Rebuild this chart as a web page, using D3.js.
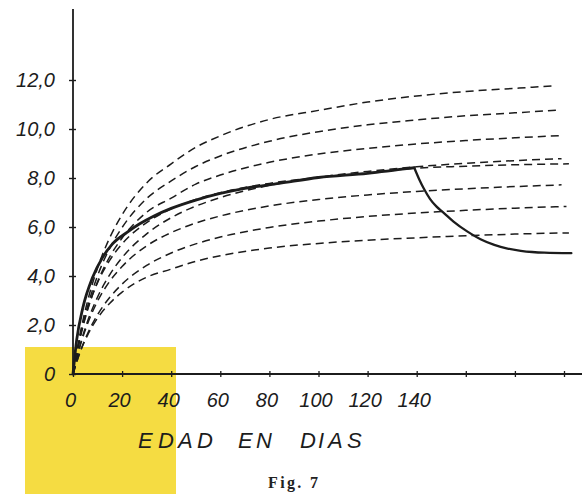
<!DOCTYPE html>
<html>
<head>
<meta charset="utf-8">
<script src="https://cdn.jsdelivr.net/npm/d3@7"></script>
<style>
  html, body { margin: 0; padding: 0; background: #ffffff; }
  svg { display: block; }
</style>
</head>
<body>
<svg id="chart" width="582" height="494"></svg>
<script>
// ---- data ----
const days = [0, 3, 6, 10, 15, 20, 30, 40, 50, 60, 80, 100, 120, 140, 160, 180, 200];
const dashed1 = [0, 1.70, 3.00, 4.33, 5.57, 6.50, 7.80, 8.58, 9.25, 9.72, 10.39, 10.76, 11.10, 11.35, 11.53, 11.66, 11.76];
const dashed2 = [0, 1.58, 2.78, 4.01, 5.14, 5.98, 7.16, 7.88, 8.47, 8.90, 9.50, 9.89, 10.17, 10.37, 10.54, 10.66, 10.77];
const dashed3 = [0, 1.50, 2.63, 3.76, 4.79, 5.55, 6.60, 7.18, 7.75, 8.12, 8.64, 8.98, 9.21, 9.39, 9.53, 9.64, 9.73];
const dashed4 = [0, 1.22, 2.17, 3.14, 4.06, 4.75, 5.72, 6.38, 6.85, 7.20, 7.70, 8.03, 8.27, 8.46, 8.60, 8.71, 8.79];
const dashed5 = [0, 1.56, 2.67, 3.73, 4.65, 5.31, 6.18, 6.74, 7.12, 7.40, 7.78, 8.03, 8.21, 8.40, 8.48, 8.54, 8.58];
const dashed6 = [0, 1.18, 2.07, 2.97, 3.79, 4.39, 5.23, 5.77, 6.16, 6.45, 6.86, 7.12, 7.31, 7.45, 7.56, 7.65, 7.72];
const dashed7 = [0, 0.93, 1.66, 2.42, 3.13, 3.67, 4.43, 4.94, 5.31, 5.59, 5.98, 6.24, 6.43, 6.57, 6.68, 6.77, 6.84];
const dashed8 = [0, 0.92, 1.60, 2.28, 2.89, 3.34, 3.95, 4.28, 4.60, 4.83, 5.14, 5.33, 5.46, 5.56, 5.64, 5.71, 5.76];
const dashedLastDay = [196, 197, 199, 199, 202, 199, 201, 202];

const solidRiseDays = [0, 1.5, 4, 8, 12, 16, 22, 27, 33, 40, 50, 60, 70, 84, 100, 120, 139];
const solidRiseVals = [0, 1.39, 2.7, 3.95, 4.75, 5.3, 5.78, 6.12, 6.45, 6.76, 7.1, 7.37, 7.58, 7.78, 8.02, 8.19, 8.42];
const solidFallDays = [139, 141, 143, 145.4, 148, 151, 155, 160.7, 166, 171.6, 177, 182.4, 187, 192, 203];
const solidFallVals = [8.42, 7.95, 7.55, 7.15, 6.84, 6.58, 6.22, 5.81, 5.50, 5.27, 5.12, 5.03, 4.98, 4.95, 4.93];

const xTicks = [0, 20, 40, 60, 80, 100, 120, 140, 160, 180, 200];
const xTickLabels = ["0", "20", "40", "60", "80", "100", "120", "140", "", "", ""];
const yTicks = [0, 2, 4, 6, 8, 10, 12];
const yTickLabels = ["0", "2,0", "4,0", "6,0", "8,0", "10,0", "12,0"];
const xTitleWords = ["EDAD", "EN", "DIAS"];
const caption = "Fig. 7";

// ---- drawing ----
const svg = d3.select("#chart");
const ink = "#1c1c1c";

const x = d3.scaleLinear().domain([0, 200]).range([73, 564]);
const y = d3.scaleLinear().domain([0, 12]).range([374, 80]);

// yellow patch (scan artefact)
svg.append("rect")
  .attr("x", 25).attr("y", 347).attr("width", 151).attr("height", 147)
  .attr("fill", "#f5dc42");

// axis lines
svg.append("line")
  .attr("x1", x(0)).attr("x2", x(0))
  .attr("y1", y(0)).attr("y2", y(14.9))
  .attr("stroke", ink).attr("stroke-width", 1.8);
svg.append("line")
  .attr("x1", x(0)).attr("x2", 582)
  .attr("y1", y(0)).attr("y2", y(0))
  .attr("stroke", ink).attr("stroke-width", 1.8);

// y axis ticks + labels
const yAxis = d3.axisLeft(y)
  .tickValues(yTicks)
  .tickSize(4)
  .tickSizeOuter(0)
  .tickFormat((d, i) => yTickLabels[i]);
const gy = svg.append("g").attr("transform", `translate(${x(0)},0)`).call(yAxis);
gy.select(".domain").remove();
gy.selectAll(".tick line").attr("x1", 3).attr("x2", -4).attr("stroke", ink).attr("stroke-width", 1.4);
gy.selectAll(".tick text")
  .attr("x", -18).attr("dy", "0.3em")
  .attr("font-family", "'Liberation Sans', Arial, sans-serif")
  .attr("font-style", "italic")
  .attr("font-size", 20)
  .attr("fill", ink);

// x axis ticks + labels
const xAxis = d3.axisBottom(x)
  .tickValues(xTicks)
  .tickSize(3)
  .tickSizeOuter(0)
  .tickFormat((d, i) => xTickLabels[i]);
const gx = svg.append("g").attr("transform", `translate(0,${y(0)})`).call(xAxis);
gx.select(".domain").remove();
gx.selectAll(".tick line").attr("y1", -3).attr("y2", 3).attr("stroke", ink).attr("stroke-width", 1.3);
gx.selectAll(".tick text")
  .attr("x", -3).attr("y", 33).attr("dy", 0)
  .attr("font-family", "'Liberation Sans', Arial, sans-serif")
  .attr("font-style", "italic")
  .attr("font-size", 20)
  .attr("fill", ink);

// dashed family
const line = d3.line()
  .x(d => x(d[0]))
  .y(d => y(d[1]))
  .curve(d3.curveMonotoneX);

const dashedSeries = [dashed1, dashed2, dashed3, dashed4, dashed5, dashed6, dashed7, dashed8];
svg.append("g")
  .selectAll("path")
  .data(dashedSeries)
  .join("path")
  .attr("d", (vals, k) => line(days.map((d, i) => [i === days.length - 1 ? dashedLastDay[k] : d, vals[i]])))
  .attr("fill", "none")
  .attr("stroke", ink)
  .attr("stroke-width", 1.5)
  .attr("stroke-dasharray", "8,5");

// solid curve
svg.append("path")
  .attr("d", line(solidRiseDays.map((d, i) => [d, solidRiseVals[i]])))
  .attr("fill", "none").attr("stroke", ink).attr("stroke-width", 2.8)
  .attr("stroke-linecap", "round");
svg.append("path")
  .attr("d", line(solidFallDays.map((d, i) => [d, solidFallVals[i]])))
  .attr("fill", "none").attr("stroke", ink).attr("stroke-width", 2.3)
  .attr("stroke-linecap", "round");

// x title (hand-lettered, widely spaced capitals)
const titleLetterX = [[138, 158, 178, 197], [238, 256], [300, 318, 328, 347]];
svg.append("g").selectAll("text")
  .data(xTitleWords)
  .join("text")
  .attr("x", (d, i) => titleLetterX[i].join(" "))
  .attr("y", 448)
  .attr("font-family", "'Liberation Sans', Arial, sans-serif")
  .attr("font-style", "italic")
  .attr("font-size", 22)
  .attr("fill", ink)
  .text(d => d);

// caption
svg.append("text")
  .attr("x", 268).attr("y", 488)
  .attr("textLength", 50).attr("lengthAdjust", "spacing")
  .attr("font-family", "'Liberation Serif', 'DejaVu Serif', serif")
  .attr("font-weight", "bold")
  .attr("font-size", 16)
  .attr("fill", "#222")
  .text(caption);
</script>
</body>
</html>
